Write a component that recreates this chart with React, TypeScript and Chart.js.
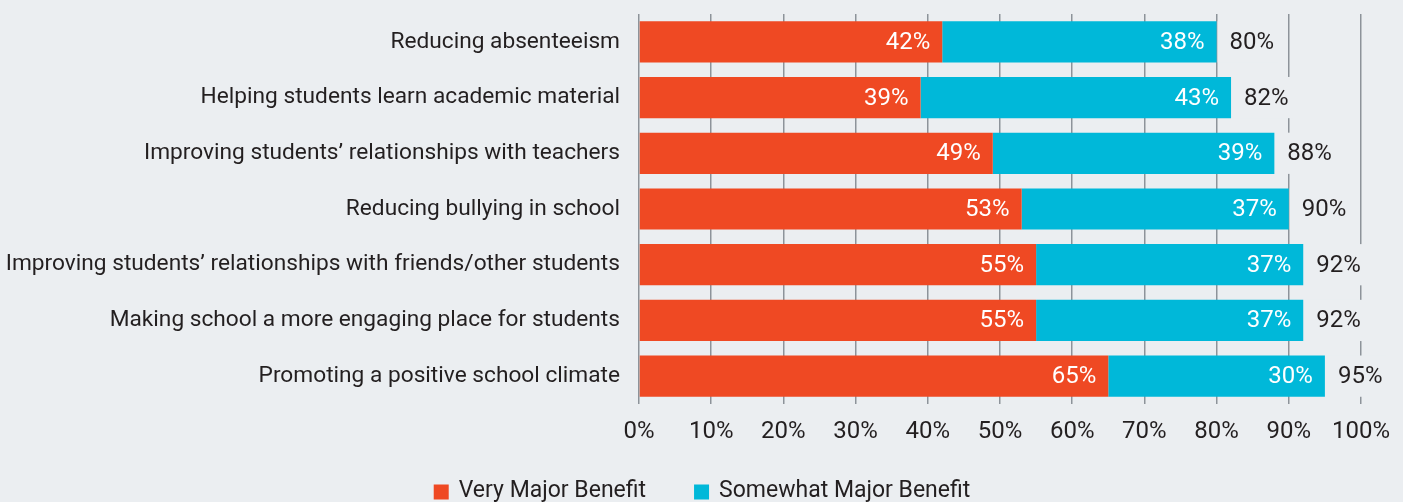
import React, { useEffect, useRef } from "react";
import { Chart, registerables } from "chart.js";

Chart.register(...registerables);

const categories = [
  "Reducing absenteeism",
  "Helping students learn academic material",
  "Improving students’ relationships with teachers",
  "Reducing bullying in school",
  "Improving students’ relationships with friends/other students",
  "Making school a more engaging place for students",
  "Promoting a positive school climate",
];
const veryMajor = [42, 39, 49, 53, 55, 55, 65];
const somewhatMajor = [38, 43, 39, 37, 37, 37, 30];
const totals = [80, 82, 88, 90, 92, 92, 95];
const seriesLabels = ["Very Major Benefit", "Somewhat Major Benefit"];
const seriesColors = ["#ef4923", "#00b8d9"];
const xTickStep = 10;

const BG = "#ebeef1";
const TEXT = "#231f20";
const FONT = "Roboto, 'Noto Sans', sans-serif";

const labelPlugin = {
  id: "barLabels",
  afterDatasetsDraw(chart: any) {
    const ctx = chart.ctx;
    ctx.save();
    ctx.textBaseline = "middle";
    ctx.font = `24px ${FONT}`;
    const series = [veryMajor, somewhatMajor];
    series.forEach((vals, di) => {
      const meta = chart.getDatasetMeta(di);
      meta.data.forEach((el: any, i: number) => {
        ctx.fillStyle = "#ffffff";
        ctx.textAlign = "right";
        ctx.fillText(`${vals[i]}%`, el.x - 12, el.y + 1);
      });
    });
    const last = chart.getDatasetMeta(1);
    last.data.forEach((el: any, i: number) => {
      const txt = `${totals[i]}%`;
      const w = ctx.measureText(txt).width;
      const h = el.height;
      ctx.fillStyle = BG;
      ctx.fillRect(el.x + 1, el.y - h / 2, 12 + w + 4, h);
      ctx.fillStyle = TEXT;
      ctx.textAlign = "left";
      ctx.fillText(txt, el.x + 13, el.y + 1);
    });
    ctx.restore();
  },
};

const legendPlugin = {
  id: "customLegend",
  afterDraw(chart: any) {
    const ctx = chart.ctx;
    ctx.save();
    ctx.font = `23px ${FONT}`;
    ctx.textBaseline = "middle";
    ctx.textAlign = "left";
    const box = 15;
    const gapText = 10;
    const gapItems = 48;
    const widths = seriesLabels.map((t) => ctx.measureText(t).width);
    const total =
      widths.reduce((a, w) => a + box + gapText + w, 0) + gapItems * (seriesLabels.length - 1);
    let x = 702 - total / 2;
    const yc = 492;
    seriesLabels.forEach((t, i) => {
      ctx.fillStyle = seriesColors[i];
      ctx.fillRect(x, yc - box / 2, box, box);
      ctx.fillStyle = TEXT;
      ctx.fillText(t, x + box + gapText, yc - 1);
      x += box + gapText + widths[i] + gapItems;
    });
    ctx.restore();
  },
};

export default function App() {
  const ref = useRef<HTMLCanvasElement>(null);
  useEffect(() => {
    if (!ref.current) return;
    const chart = new Chart(ref.current, {
      type: "bar",
      data: {
        labels: categories,
        datasets: [
          {
            label: seriesLabels[0],
            data: veryMajor,
            backgroundColor: seriesColors[0],
            borderWidth: 0,
            categoryPercentage: 0.74,
            barPercentage: 1,
          },
          {
            label: seriesLabels[1],
            data: somewhatMajor,
            backgroundColor: seriesColors[1],
            borderWidth: 0,
            categoryPercentage: 0.74,
            barPercentage: 1,
          },
        ],
      },
      options: {
        indexAxis: "y",
        responsive: false,
        animation: false,
        layout: { padding: { top: 14, right: 42, left: 0, bottom: 0 } },
        plugins: {
          legend: { display: false },
          tooltip: { enabled: false },
        },
        scales: {
          x: {
            stacked: true,
            min: 0,
            max: 100,
            ticks: {
              stepSize: xTickStep,
              callback: (v: any) => `${v}%`,
              font: { family: FONT, size: 24 },
              color: TEXT,
              padding: 14,
              maxRotation: 0,
            },
            grid: { color: "#8d939a", lineWidth: 1.5, drawTicks: false },
            border: { display: false },
            afterFit: (s: any) => {
              s.height = 98;
              s.paddingLeft = 0;
              s.paddingRight = 0;
            },
          },
          y: {
            stacked: true,
            ticks: {
              font: { family: FONT, size: 22.7 },
              color: TEXT,
              padding: 19,
            },
            grid: { display: false, drawTicks: false },
            border: { display: false },
            afterFit: (s: any) => {
              s.width = 639;
              s.paddingTop = 0;
              s.paddingBottom = 0;
            },
          },
        },
      },
      plugins: [labelPlugin, legendPlugin],
    });
    return () => chart.destroy();
  }, []);
  return (
    <div
      style={{
        position: "fixed",
        left: 0,
        top: 0,
        width: 1403,
        height: 502,
        background: BG,
      }}
    >
      <canvas ref={ref} width={1403} height={502} />
    </div>
  );
}
